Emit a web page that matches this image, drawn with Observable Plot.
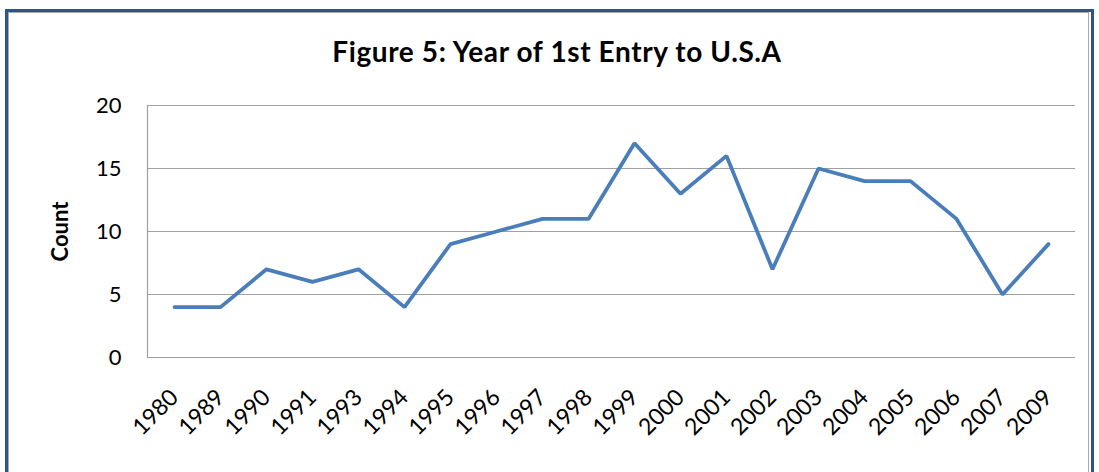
<!DOCTYPE html>
<html>
<head>
<meta charset="utf-8">
<script src="https://cdn.jsdelivr.net/npm/d3@7"></script>
<script src="https://cdn.jsdelivr.net/npm/@observablehq/plot@0.6"></script>
<style>
  html, body { margin: 0; padding: 0; background: #fff; }
  #wrap { position: relative; width: 1099px; height: 472px; overflow: hidden; font-family: Lato, "Open Sans", sans-serif; }
  #outer { position: absolute; left: 5px; top: 9px; width: 1083px; height: 480px; border: 3px solid #2c5588; border-bottom: none; }
  #inner { position: absolute; left: 8px; top: 12px; width: 1079px; height: 480px; border: 1.5px solid #a8a8a8; border-bottom: none; }
  #title { position: absolute; left: 0; width: 1114px; top: 34px; text-align: center; font-weight: bold; font-size: 28px; letter-spacing: 0.6px; color: #000; }
  #chart { position: absolute; left: 0; top: 0; }
</style>
</head>
<body>
<div id="wrap">
  <div id="outer"></div>
  <div id="inner"></div>
  <div id="chart"></div>
  <div id="title">Figure 5: Year of 1st Entry to U.S.A</div>
</div>
<script>
const years = ["1980","1989","1990","1991","1993","1994","1995","1996","1997","1998","1999","2000","2001","2002","2003","2004","2005","2006","2007","2009"];
const counts = [4,4,7,6,7,4,9,10,11,11,17,13,16,7,15,14,14,11,5,9];
const yTicks = [0,5,10,15,20];

const data = years.map((y, i) => ({year: y, count: counts[i]}));

const chart = Plot.plot({
  width: 1099,
  height: 472,
  marginLeft: 147,
  marginRight: 24,
  marginTop: 105,
  marginBottom: 115,
  style: {fontFamily: "Lato, 'Open Sans', sans-serif", fontSize: "22px", color: "#000", background: "transparent"},
  x: {type: "point", domain: years, padding: 0.5, align: 0.5, label: null},
  y: {domain: [0, 20], ticks: yTicks, label: null},
  marks: [
    Plot.gridY(yTicks, {stroke: "#a0a0a0", strokeOpacity: 1, strokeWidth: 1.2}),
    Plot.frame({anchor: "left", stroke: "#a0a0a0", strokeWidth: 1.2}),
    Plot.axisY({ticks: yTicks, tickSize: 0, tickPadding: 26, label: null, fontSize: 22}),
    Plot.axisX({tickSize: 0, tickRotate: -45, tickPadding: 36, label: null, fontSize: 23}),
    Plot.line(data, {x: "year", y: "count", stroke: "#4a7ebb", strokeWidth: 3.8, strokeLinejoin: "miter"}),
    Plot.text(["Count"], {frameAnchor: "left", dx: -87, rotate: -90, textAnchor: "middle", fontWeight: "bold", fontSize: 22, text: d => d})
  ]
});
document.getElementById("chart").appendChild(chart);
</script>
</body>
</html>
